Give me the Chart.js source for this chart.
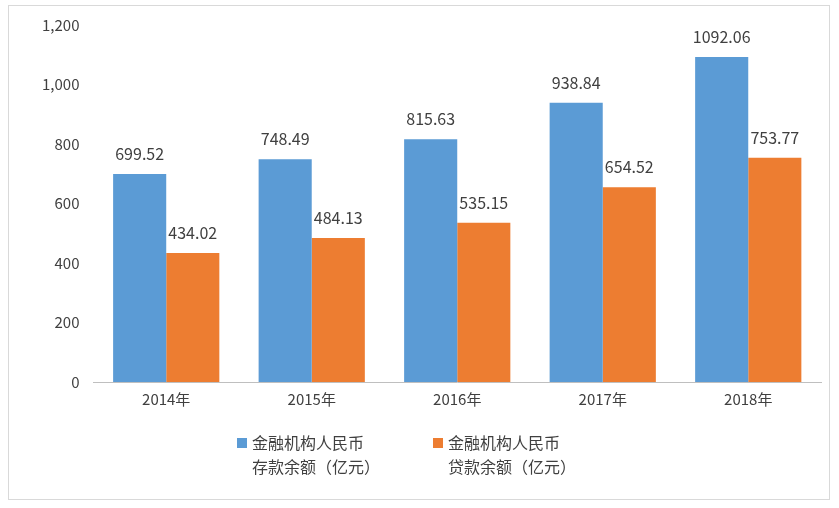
<!DOCTYPE html>
<html><head><meta charset="utf-8">
<script src="https://cdn.jsdelivr.net/npm/chart.js@4"></script>
<style>
html,body{margin:0;padding:0;background:#fff;}
#wrap{position:absolute;left:0;top:0;width:839px;height:508px;}
#box{position:absolute;left:8px;top:5px;width:822px;height:495px;border:1px solid #d9d9d9;box-sizing:border-box;}
</style></head>
<body>
<div id="wrap"><div id="box"></div><canvas id="c" width="839" height="508"></canvas></div>
<script>
const categories=['2014年','2015年','2016年','2017年','2018年'];
const deposits=[699.52,748.49,815.63,938.84,1092.06];
const loans=[434.02,484.13,535.15,654.52,753.77];
const seriesNames=[['金融机构人民币','存款余额（亿元）'],['金融机构人民币','贷款余额（亿元）']];
const colors=['#5B9BD5','#ED7D31'];
const FONT='"Noto Sans CJK SC","Liberation Sans",sans-serif';

const labelPlugin={id:'lbl',afterDatasetsDraw(chart){
  const ctx=chart.ctx;ctx.save();ctx.font='16px '+FONT;ctx.fillStyle='#404040';ctx.textAlign='center';ctx.textBaseline='bottom';
  chart.data.datasets.forEach((ds,i)=>{chart.getDatasetMeta(i).data.forEach((b,j)=>{ctx.fillText(ds.data[j].toFixed(2),b.x,b.y-12);});});
  // legend
  const items=[{x:237},{x:433}];const y0=438;
  items.forEach((it,i)=>{ctx.fillStyle=colors[i];ctx.fillRect(it.x,y0,10,10);
    ctx.fillStyle='#404040';ctx.textAlign='left';ctx.textBaseline='middle';ctx.font='16px '+FONT;
    ctx.fillText(seriesNames[i][0],it.x+15,y0+5);ctx.fillText(seriesNames[i][1],it.x+15,y0+29);});
  ctx.restore();}};

new Chart(document.getElementById('c'),{type:'bar',
 data:{labels:categories,datasets:[
  {label:seriesNames[0].join(''),data:deposits,backgroundColor:colors[0],categoryPercentage:0.73,barPercentage:1},
  {label:seriesNames[1].join(''),data:loans,backgroundColor:colors[1],categoryPercentage:0.73,barPercentage:1}]},
 options:{responsive:false,animation:false,
  layout:{padding:{left:28,right:18,top:25,bottom:92}},
  plugins:{legend:{display:false},tooltip:{enabled:false}},
  scales:{
   x:{grid:{display:false,drawTicks:false},border:{color:'#bfbfbf'},ticks:{color:'#404040',font:{family:FONT,size:15},padding:8}},
   y:{min:0,max:1200,grid:{display:false,drawTicks:false},border:{display:false},ticks:{stepSize:200,color:'#404040',font:{family:FONT,size:15},padding:14}}}},
 plugins:[labelPlugin]});
</script></body></html>
